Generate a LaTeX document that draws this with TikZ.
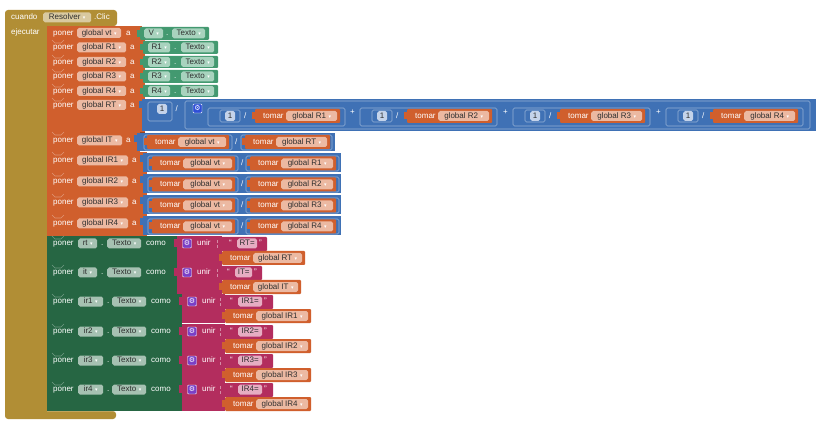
\documentclass[tikz,border=0pt]{standalone}
\usepackage{fontspec}
\setmainfont{Liberation Sans}
\newfontfamily\dvfont{DejaVu Sans}

% block palette
\definecolor{ctlgold}{HTML}{B18E35}
\definecolor{varor}{HTML}{D05F2D}
\definecolor{mathbl}{HTML}{3F71B5}
\definecolor{txtpk}{HTML}{B32D5E}
\definecolor{setgr}{HTML}{266643}
\definecolor{getgr}{HTML}{439970}
% field backgrounds
\definecolor{fgold}{HTML}{D9C9A0}
\definecolor{fvar}{HTML}{ECB9A2}
\definecolor{fset}{HTML}{A6C1B2}
\definecolor{fget}{HTML}{A8D3BE}
\definecolor{fmath}{HTML}{C4D3EA}
\definecolor{ftxt}{HTML}{E6ADC2}
\definecolor{fieldtxt}{HTML}{2E2E2E}
\definecolor{gearbl}{HTML}{2F4FD6}
\definecolor{gearpk}{HTML}{7A3FC6}

\newcommand\blkfont{\fontsize{8}{9}\selectfont}
\newcommand\ddarrow{\hspace{2.5pt}{\dvfont\fontsize{5}{5}\selectfont\textcolor{white}{▾}}}
\newcommand\gearsym{{\dvfont\fontsize{7}{7}\selectfont ⚙}}

\tikzset{
  lb/.style={text=white, font=\blkfont, inner sep=0pt, anchor=west,
    text height=5.8pt, text depth=1.6pt},
  fd/.style={rounded corners=1.8pt, inner xsep=2pt, inner ysep=0pt,
    minimum height=10pt, anchor=west, font=\blkfont, text=fieldtxt,
    text height=5.8pt, text depth=1.6pt},
  sock/.style={draw=mathbl!55!white, line width=0.6pt, rounded corners=1.5pt},
  sockp/.style={draw=white, draw opacity=0.45, line width=0.6pt},
  notch/.style={draw=white, draw opacity=0.35, line width=0.6pt},
  seamo/.style={draw=varor!70!black, line width=0.4pt},
  seamg/.style={draw=white, draw opacity=0.2, line width=0.5pt},
  gearbox/.style={minimum size=9pt, inner sep=0pt, rounded corners=1pt,
    draw=white, line width=0.4pt, text=white},
}

% text label and field helpers
\newcommand\lbl[4]{\node[lb] (#1) at (#2,#3) {#4};}
\newcommand\fld[6]{\node[fd, fill=#5, minimum width={(#3)-(#2)}] (#1) at (#2,#4) {#6};}
\newcommand\notch[1]{\draw[notch] (52,#1) -- (55,#1+3) -- (61,#1+3) -- (64,#1);}

% "poner global X a" statement: id, top, bottom, right end, text y, field end, x of "a", variable
\newcommand\setvar[8]{%
  \fill[varor] (47,#2) rectangle (#4,#3);
  \draw[seamo] (47,#3) -- (#4,#3);
  \lbl{#1p}{53}{#5}{poner}
  \fld{#1f}{77}{#6}{#5}{fvar}{#8\ddarrow}
  \lbl{#1a}{#7}{#5}{a}
}

% "tomar global X" getter: id, left x, centre y, width, variable
\newcommand\tomar[5]{%
  \fill[varor] (#2-3,#3-4) rectangle (#2+1,#3+3);
  \fill[varor, rounded corners=1pt] (#2,#3-7) rectangle (#2+#4,#3+7);
  \node[lb] (#1t) at (#2+8,#3) {tomar};
  \node[fd, fill=fvar, minimum width={(#4)-34}] (#1) at (#2+31,#3) {#5\ddarrow};
}

% division row "tomar global vt / tomar global Rk": id, top, variable
\newcommand\irblue[3]{%
  \fill[mathbl] (140,#2+3) rectangle (144,#2+10);
  \fill[mathbl] (143,#2+1) rectangle (341,#2+20);
  \draw[sock] (148,#2+4) rectangle (238,#2+19);
  \draw[sock] (246,#2+4) rectangle (339,#2+19);
  \tomar{#1A}{152}{#2+11.5}{83}{global vt}
  \lbl{#1S}{241}{#2+11.5}{/}
  \tomar{#1B}{250}{#2+11.5}{86}{global #3}
}

% "1 / tomar global Rk" term of the sum: id, left x, variable
\newcommand\divterm[3]{%
  \draw[sock] (#2,108) rectangle (#2+137,126);
  \draw[sock] (#2+12,110) rectangle (#2+32,122);
  \fld{#1n}{#2+17}{#2+27}{116}{fmath}{1}
  \lbl{#1s}{#2+36}{116}{/}
  \tomar{#1t}{#2+47}{116}{85}{#3}
}

% "poner comp.Texto como": id, top, bottom, component, shift, component field end
\newcommand\setcomp[6]{%
  \fill[setgr] (47,#2) rectangle (177+#5,#3);
  \draw[seamg] (47,#3) -- (177+#5,#3);
  \lbl{#1p}{53}{#2+7.5}{poner}
  \fld{#1c}{78}{#6}{#2+7.5}{fset}{#4\ddarrow}
  \lbl{#1d}{#6+4}{#2+7.5}{.}
  \fld{#1x}{107+#5}{141+#5}{#2+7.5}{fset}{Texto\ddarrow}
  \lbl{#1m}{146+#5}{#2+7.5}{como}
}

% "unir" join block with its text piece: id, top, left, split x, text end, text, field start, field end
\newcommand\unir[8]{%
  \fill[txtpk] (#3-3,#2+3) rectangle (#3+1,#2+11);
  \fill[txtpk] (#3,#2) rectangle (#4,#2+29);
  \fill[txtpk, rounded corners=1pt] (#4-1,#2+1) rectangle (#5,#2+15);
  \draw[sockp] (#4-5,#2+4) -- (#4-5,#2+7) (#4-5,#2+9) -- (#4-5,#2+12);
  \node[gearbox, fill=gearpk] (#1g) at (#3+10,#2+7.5) {\gearsym};
  \lbl{#1u}{#3+20}{#2+7.5}{unir}
  \lbl{#1q}{#7-8}{#2+7.5}{“}
  \fld{#1f}{#7}{#8}{#2+7.5}{ftxt}{#6}
  \lbl{#1r}{#8+2}{#2+7.5}{”}
}

\begin{document}
\begin{tikzpicture}[x=1pt,y=-1pt]
\useasboundingbox (0,0) rectangle (826,427);
\fill[white] (0,0) rectangle (826,427);

% event handler
\fill[ctlgold, rounded corners=3pt] (5,10) -- (117,10) -- (117,26) -- (47,26)
  -- (47,411) -- (116,411) -- (116,419) -- (5,419) -- cycle;
\lbl{evc}{11}{17.5}{cuando}
\fld{evb}{43}{91}{17.5}{fgold}{Resolver\ddarrow}
\lbl{evk}{94}{17.5}{.Clic}
\lbl{eve}{11}{32}{ejecutar}

% variable assignments
\setvar{vt}{26}{40}{142}{33}{121}{126}{global vt}
\setvar{ra}{40}{55}{145}{47.5}{126}{130}{global R1}
\setvar{rb}{55}{69}{145}{62}{126}{130}{global R2}
\setvar{rc}{69}{84}{145}{76.5}{126}{130}{global R3}
\setvar{rd}{84}{98}{145}{91}{126}{130}{global R4}
\setvar{rt}{98}{132}{145}{105}{126}{130}{global RT}
\setvar{it}{132}{152}{140}{140.5}{122}{126}{global IT}
\setvar{ia}{152}{173}{147}{160.5}{128}{132}{global IR1}
\setvar{ib}{173}{194}{147}{181.5}{128}{132}{global IR2}
\setvar{ic}{194}{215}{147}{202.5}{128}{132}{global IR3}
\setvar{id}{215}{236}{147}{223.5}{128}{132}{global IR4}

% component getters V.Texto, R1..R4.Texto
\fill[getgr] (137,30) rectangle (141,37);
\fill[getgr, rounded corners=1pt] (140,27) rectangle (209,40);
\fld{gv}{144}{163}{33.5}{fget}{V\ddarrow}
\lbl{gvd}{166}{33.5}{.}
\fld{gvt}{172}{205}{33.5}{fget}{Texto\ddarrow}
\foreach \k/\t/\b/\c in {1/41/54/47.5, 2/56/68/62, 3/70/83/76.5, 4/85/97/91} {
  \fill[getgr] (140,\t+3) rectangle (144,\t+9);
  \fill[getgr, rounded corners=1pt] (143,\t) rectangle (218,\b);
  \fld{gr\k}{148}{170}{\c}{fget}{R\k\ddarrow}
  \lbl{gd\k}{174}{\c}{.}
  \fld{gt\k}{181}{214}{\c}{fget}{Texto\ddarrow}
}

% RT = 1 / (1/R1 + 1/R2 + 1/R3 + 1/R4)
\fill[mathbl] (139,101) rectangle (143,108);
\fill[mathbl] (142,99) rectangle (816,131);
\draw[sock] (148,102) rectangle (172,121);
\fld{rtn}{157}{167}{109}{fmath}{1}
\lbl{rts}{175.5}{109}{/}
\draw[sock] (185,101) rectangle (810,129);
\node[gearbox, fill=gearbl] (rtg) at (197.5,108.5) {\gearsym};
\divterm{da}{208}{global R1}
\lbl{pa}{350}{112}{+}
\divterm{db}{360}{global R2}
\lbl{pb}{503}{112}{+}
\divterm{dc}{513}{global R3}
\lbl{pc}{656}{112}{+}
\divterm{dd}{666}{global R4}

% IT = vt / RT
\fill[mathbl] (134,135) rectangle (138,142);
\fill[mathbl] (137,133) rectangle (335,151);
\draw[sock] (144,135) rectangle (232,150);
\draw[sock] (241,135) rectangle (332,150);
\tomar{itA}{147}{142}{82}{global vt}
\lbl{itS}{235}{142}{/}
\tomar{itB}{245}{142}{85}{global RT}

% IRk = vt / Rk
\irblue{ia}{152}{R1}
\irblue{ib}{173}{R2}
\irblue{ic}{194}{R3}
\irblue{id}{215}{R4}

% label texts
\setcomp{lrt}{236}{265}{rt}{0}{97}
\setcomp{lit}{265}{294}{it}{0}{97}
\setcomp{la}{294}{324}{ir1}{5}{103}
\setcomp{lb}{324}{353}{ir2}{5}{103}
\setcomp{lc}{353}{382}{ir3}{5}{103}
\setcomp{ld}{382}{411}{ir4}{5}{103}

\unir{urt}{236}{177}{222}{267}{RT=}{237}{257}
\tomar{vrt}{222}{258}{83}{global RT}
\unir{uit}{265}{177}{222}{262}{IT=}{235}{252}
\tomar{vit}{222}{287}{79}{global IT}
\unir{ua}{294}{182}{225}{273}{IR1=}{238}{262}
\tomar{va}{225}{316}{86}{global IR1}
\unir{ub}{324}{182}{225}{273}{IR2=}{238}{262}
\tomar{vb}{225}{346}{86}{global IR2}
\unir{uc}{353}{182}{225}{273}{IR3=}{238}{262}
\tomar{vc}{225}{375}{86}{global IR3}
\unir{ud}{382}{182}{225}{273}{IR4=}{238}{262}
\tomar{vd}{225}{404}{86}{global IR4}

% statement notches
\foreach \t in {40,55,69,84,98,132,152,173,194,215,236,265,294,324,353,382} {\notch{\t}}
\end{tikzpicture}
\end{document}
